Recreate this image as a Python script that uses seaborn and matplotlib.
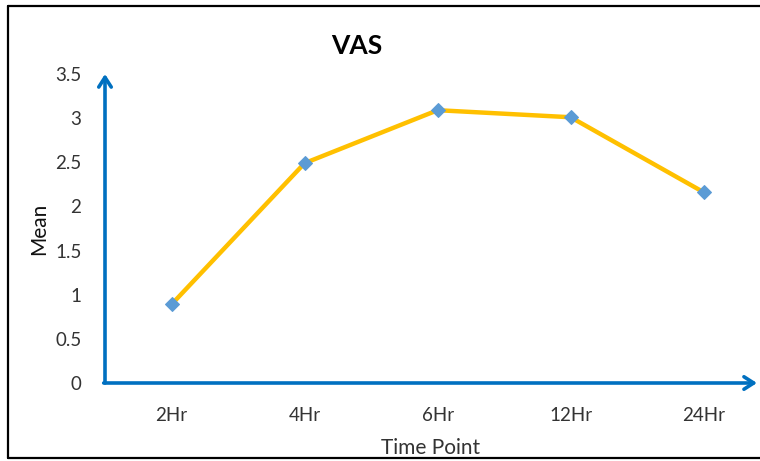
import matplotlib
matplotlib.use("Agg")
import matplotlib.pyplot as plt
from matplotlib.lines import Line2D
import seaborn as sns
import pandas as pd

time_points = ["2Hr", "4Hr", "6Hr", "12Hr", "24Hr"]
mean_vas = [0.89, 2.49, 3.09, 3.01, 2.16]
y_ticks = [0, 0.5, 1, 1.5, 2, 2.5, 3, 3.5]

sns.set_style("white")
plt.rcParams['font.family'] = ['Lato', 'DejaVu Sans']

df = pd.DataFrame({"Time Point": time_points, "Mean": mean_vas})
df["pos"] = range(len(time_points))

fig = plt.figure(figsize=(7.6, 4.61), dpi=100)
ax = fig.add_axes([105/760, (461-383)/461, (757-105)/760, (383-74)/461])

sns.lineplot(data=df, x="pos", y="Mean", ax=ax, color="#FFC000", linewidth=3.2,
             marker="D", markersize=7.5, markerfacecolor="#5B9BD5",
             markeredgecolor="#5B9BD5")

ax.set_xlim(-0.5, 4.4)
ax.set_ylim(0, 3.5)
ax.set_xticks(range(len(time_points)))
ax.set_xticklabels(time_points)
ax.set_yticks(y_ticks)
ax.set_yticklabels(["0", "0.5", "1", "1.5", "2", "2.5", "3", "3.5"])
ax.tick_params(axis="both", length=0, labelsize=13.5, colors="#333333")
ax.tick_params(axis="x", pad=17)
ax.tick_params(axis="y", pad=17)
for s in ax.spines.values():
    s.set_visible(False)

blue = "#0070C0"
ax.annotate("", xy=(0, 1.0), xytext=(0, 0), xycoords="axes fraction",
            arrowprops=dict(arrowstyle="->,head_length=0.7,head_width=0.45",
                            color=blue, lw=2.6, shrinkA=0, shrinkB=0))
ax.annotate("", xy=(1.0, 0), xytext=(-0.002, 0), xycoords="axes fraction",
            arrowprops=dict(arrowstyle="->,head_length=0.7,head_width=0.45",
                            color=blue, lw=2.6, shrinkA=0, shrinkB=0))

ax.set_xlabel("Time Point", fontsize=15, color="#333333", labelpad=10)
ax.set_ylabel("Mean", fontsize=15, color="#111111", labelpad=4)

fig.text(357/760, 1 - 46/461, "VAS", ha="center", va="center",
         fontsize=19, fontweight="bold", color="#000000")

# outer frame: left, top and bottom edges (right edge open)
x0, y_top, y_bot = 8/760, 1 - 6/461, 1 - 458/461
for xs, ys in [((x0, x0), (y_bot, y_top)), ((x0, 1.0), (y_top, y_top)),
               ((x0, 1.0), (y_bot, y_bot))]:
    fig.add_artist(Line2D(xs, ys, transform=fig.transFigure, color="#000000",
                          linewidth=1.6))

fig.savefig("out.png", dpi=100)
